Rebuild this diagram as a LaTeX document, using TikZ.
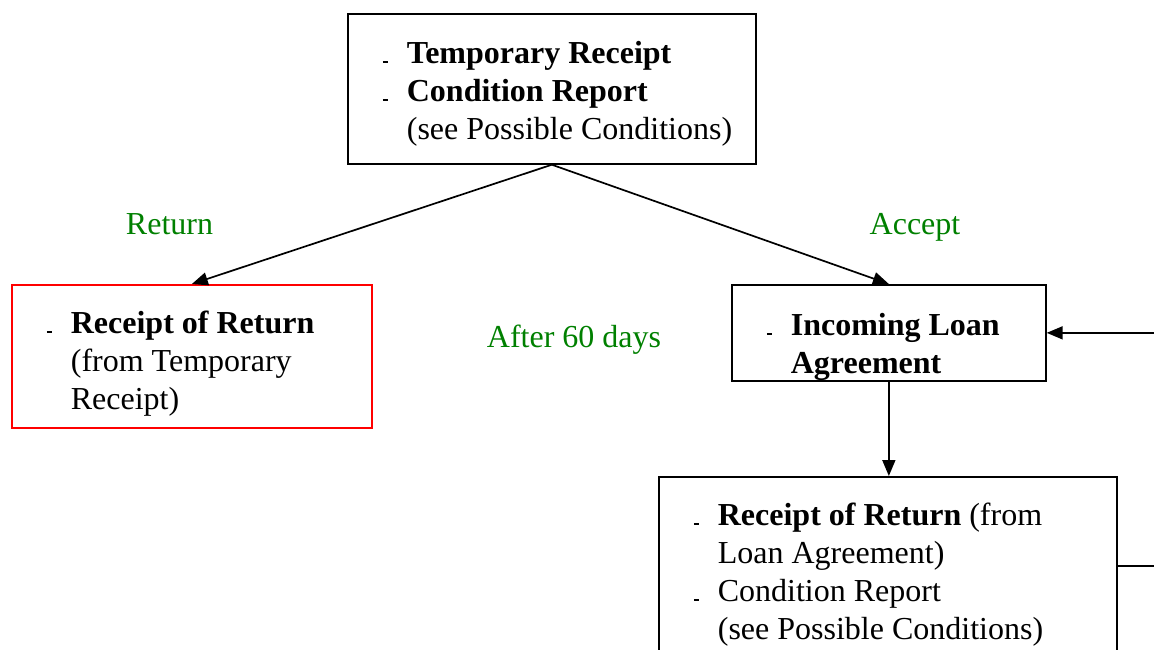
\documentclass[tikz,border=0pt]{standalone}
\usepackage{fontspec}
\setmainfont{Liberation Serif}
\usetikzlibrary{positioning,arrows.meta}
\setlength{\parindent}{0pt}
\definecolor{wordgreen}{RGB}{0,128,0}
\newcommand{\itm}{\spaceskip=0.25em\relax\hspace*{35pt}\makebox[24pt][l]{\rule[0.5pt]{5pt}{2.2pt}}}
\newcommand{\cnt}{\spaceskip=0.25em\relax\hspace*{59pt}}
\tikzset{
  txt/.style={font=\fontsize{32}{37.8}\selectfont},
  box/.style={draw, line width=1.7pt, anchor=north west, inner sep=0pt, align=left, txt},
  lbl/.style={txt, text=wordgreen, anchor=base, inner sep=0pt},
  flow/.style={line width=1.7pt, -{Triangle[length=16pt,width=13pt]}}
}

\begin{document}
\begin{tikzpicture}[x=1pt,y=-1pt]
\useasboundingbox (0,0) rectangle (1154,649);
\clip (0,0) rectangle (1154,649);
\node[box, text width=408pt, text height=50pt, text depth=100pt] (temp) at (347,13)
  {\itm\textbf{Temporary Receipt}\\\itm\textbf{Condition Report}\\\cnt(see Possible Conditions)};
\node[box, draw=red, text width=360pt, text height=49pt, text depth=94pt] (ret) at (11,284)
  {\itm\textbf{Receipt of Return}\\\cnt(from Temporary\\\cnt Receipt)};
\node[box, text width=314pt, text height=51pt, text depth=45pt] (loan) at (731,284)
  {\itm\textbf{Incoming Loan}\\\cnt\textbf{Agreement}};
\node[box, text width=458pt, text height=49pt, text depth=129pt] (back) at (658,476)
  {\itm\textbf{Receipt of Return} (from\\\cnt Loan Agreement)\\\itm Condition Report\\\cnt(see Possible Conditions)};
\node[lbl] (retlbl) at (169.5,234) {Return};
\node[lbl] (acclbl) at (915,234) {Accept};
\node[lbl] (daylbl) at (574,347) {After 60 days};
\draw[flow] (temp.south) -- (ret.north);
\draw[flow] (temp.south) -- (loan.north);
\draw[flow] (loan.south) -- (loan.south |- back.north);
\draw[flow] (back.east) -- ++(60,0) |- (loan.east);
\end{tikzpicture}
\end{document}
